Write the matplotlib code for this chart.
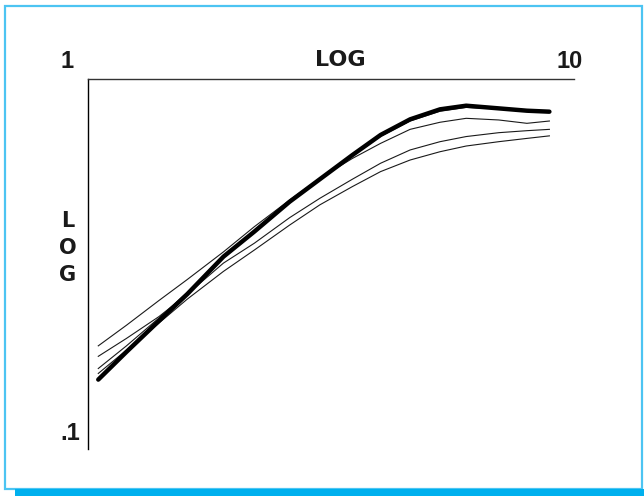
import matplotlib
matplotlib.use("Agg")
import matplotlib.pyplot as plt
from matplotlib.patches import Rectangle

# values (log-log axes, x 1..10, y .1..1)
x_vals = [1.05, 1.2, 1.4, 1.6, 1.9, 2.2, 2.6, 3.0, 3.5, 4.0, 4.6, 5.3, 6.0, 7.0, 8.0, 8.9]

thick_curve = [0.154, 0.183, 0.222, 0.262, 0.331, 0.387, 0.466, 0.536,
               0.623, 0.706, 0.778, 0.828, 0.847, 0.833, 0.821, 0.816]
curve_a = [0.190, 0.216, 0.252, 0.287, 0.341, 0.399, 0.471, 0.539,
           0.610, 0.670, 0.731, 0.764, 0.783, 0.775, 0.759, 0.770]
curve_b = [0.178, 0.199, 0.228, 0.262, 0.318, 0.360, 0.422, 0.476,
           0.536, 0.592, 0.643, 0.677, 0.699, 0.716, 0.725, 0.731]
curve_c = [0.160, 0.185, 0.219, 0.254, 0.302, 0.345, 0.403, 0.457,
           0.512, 0.562, 0.604, 0.636, 0.659, 0.677, 0.691, 0.702]
curve_d = [0.165, 0.190, 0.226, 0.265, 0.333, 0.388, 0.468, 0.537,
           0.620, 0.700, 0.770, 0.818, 0.838, 0.830, 0.823, 0.820]

thin_curves = [curve_a, curve_b, curve_c, curve_d]

fig = plt.figure(figsize=(6.44, 4.96), dpi=100)
fig.patch.set_facecolor("white")

# blue frame and bar at the bottom
fig.patches.append(Rectangle((0.0078, 0.0141), 0.989, 0.974, transform=fig.transFigure,
                             fill=False, edgecolor="#4cc4f2", linewidth=1.6))
fig.patches.append(Rectangle((0.0233, 0.0), 0.977, 0.0141, transform=fig.transFigure,
                             facecolor="#00b0ee", edgecolor="none"))

ax = fig.add_axes([0.1366, 0.0948, 0.7547, 0.7459])
ax.set_xscale("log")
ax.set_yscale("log")
ax.set_xlim(1, 10)
ax.set_ylim(0.1, 1)

for c in thin_curves:
    ax.plot(x_vals, c, color="#1a1a1a", linewidth=0.8)
ax.plot(x_vals, thick_curve, color="black", linewidth=3.2, solid_capstyle="round")

ax.spines["right"].set_visible(False)
ax.spines["bottom"].set_visible(False)
ax.spines["left"].set_linewidth(1.0)
ax.spines["top"].set_linewidth(1.0)
ax.spines["top"].set_color("#333333")
ax.set_xticks([])
ax.set_yticks([])
ax.xaxis.set_minor_locator(matplotlib.ticker.NullLocator())
ax.yaxis.set_minor_locator(matplotlib.ticker.NullLocator())

font = dict(family="Liberation Sans", weight="bold", color="#1a1a1a",
            ha="center", va="center")
wide = dict(font, family="DejaVu Sans")

def px(x, y):
    return x / 644, 1 - y / 496

fig.text(*px(67, 62), "1", fontsize=17, **font)
fig.text(*px(570, 62), "10", fontsize=17, **font)
fig.text(*px(70, 434), ".1", fontsize=17, **font)

fig.text(*px(340, 60), "LOG", fontsize=16, **wide)
for letter, y in zip("LOG", [221, 248, 275]):
    fig.text(*px(68, y), letter, fontsize=15, **wide)

fig.savefig("out.png", dpi=100)
